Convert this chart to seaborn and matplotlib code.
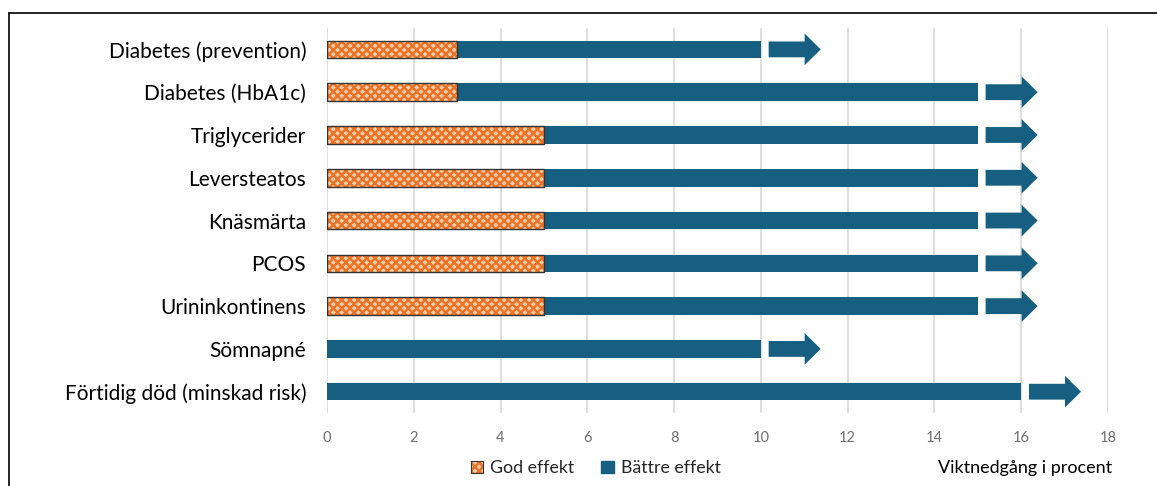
import matplotlib
matplotlib.use("Agg")
import matplotlib.pyplot as plt
import matplotlib.patches as mpatches
import matplotlib.colors as mcolors
import seaborn as sns
import pandas as pd

categories = ["Diabetes (prevention)", "Diabetes (HbA1c)", "Triglycerider", "Leversteatos",
              "Knäsmärta", "PCOS", "Urininkontinens", "Sömnapné", "Förtidig död (minskad risk)"]
god_effekt = [3, 3, 5, 5, 5, 5, 5, 0, 0]
battre_effekt_end = [10, 15, 15, 15, 15, 15, 15, 10, 16]
x_ticks = [0, 2, 4, 6, 8, 10, 12, 14, 16, 18]

sns.set_theme(style="white")
plt.rcParams['font.family'] = ['Lato', 'DejaVu Sans']

BLUE = "#175F80"
ORANGE_FACE = "#F9CFAE"
ORANGE_HATCH = "#EA7428"
HATCH = "xxxx"

df = pd.DataFrame({"cat": categories, "god": god_effekt, "battre": battre_effekt_end})

fig = plt.figure(figsize=(11.57, 4.86), dpi=100)
ax = fig.add_axes([0.2826, 0.150, 0.9576 - 0.2826, 0.9424 - 0.150])

bar_h = 0.41
sns.barplot(data=df, y="cat", x="battre", color=BLUE, width=bar_h, ax=ax,
            saturation=1, orient="h", linewidth=0, zorder=3)
n_before = len(ax.patches)
plt.rcParams['hatch.linewidth'] = 1.8
sns.barplot(data=df, y="cat", x="god", color=ORANGE_FACE, width=bar_h, ax=ax,
            saturation=1, orient="h", zorder=4)
for p in ax.patches[n_before:]:
    p.set_hatch(HATCH)
    p.set_edgecolor("#333333")
    p.set_linewidth(1.0)
    p._hatch_color = mcolors.to_rgba(ORANGE_HATCH)
    if p.get_width() == 0:
        p.set_visible(False)

# arrows after the bars
gap = 0.18
arr_len = 1.2
for i, end in enumerate(battre_effekt_end):
    ax.arrow(end + gap, i, arr_len, 0, width=0.37, head_width=0.74, head_length=0.37,
             length_includes_head=True, color=BLUE, linewidth=0, zorder=5)

ax.set_xlim(0, 18)
ax.set_ylim(8.5, -0.5)
ax.set_xticks(x_ticks)
ax.set_xticklabels([str(t) for t in x_ticks], color="#6E6E6E", fontsize=10.5)
ax.tick_params(axis="y", labelsize=15, colors="black", length=0, pad=15)
ax.tick_params(axis="x", length=0, pad=13)
ax.set_xlabel("")
ax.set_ylabel("")
ax.xaxis.grid(True, color="#D9D9D9", linewidth=1.2, zorder=0)
ax.set_axisbelow(True)
for s in ax.spines.values():
    s.set_visible(False)

# legend
h1 = mpatches.Patch(facecolor=ORANGE_FACE, hatch=HATCH, edgecolor="#333333", linewidth=0.8, label="God effekt")
h1._hatch_color = mcolors.to_rgba(ORANGE_HATCH)
h2 = mpatches.Patch(facecolor=BLUE, edgecolor=BLUE, label="Bättre effekt")
fig.legend(handles=[h1, h2], loc="center", bbox_to_anchor=(0.515, 0.037), ncol=2, frameon=False,
           fontsize=12.8, handlelength=0.7, handleheight=0.7, handletextpad=0.4, columnspacing=1.5)

fig.text(0.961, 0.037, "Viktnedgång i procent", ha="right", va="center", fontsize=13, color="black")

# frame lines (left and top)
fig.add_artist(plt.Line2D([9/1157, 9/1157], [0, 1 - 13/486], transform=fig.transFigure, color="black", linewidth=1.2))
fig.add_artist(plt.Line2D([9/1157, 1], [1 - 13/486, 1 - 13/486], transform=fig.transFigure, color="black", linewidth=1.2))

fig.savefig("out.png", dpi=100)
